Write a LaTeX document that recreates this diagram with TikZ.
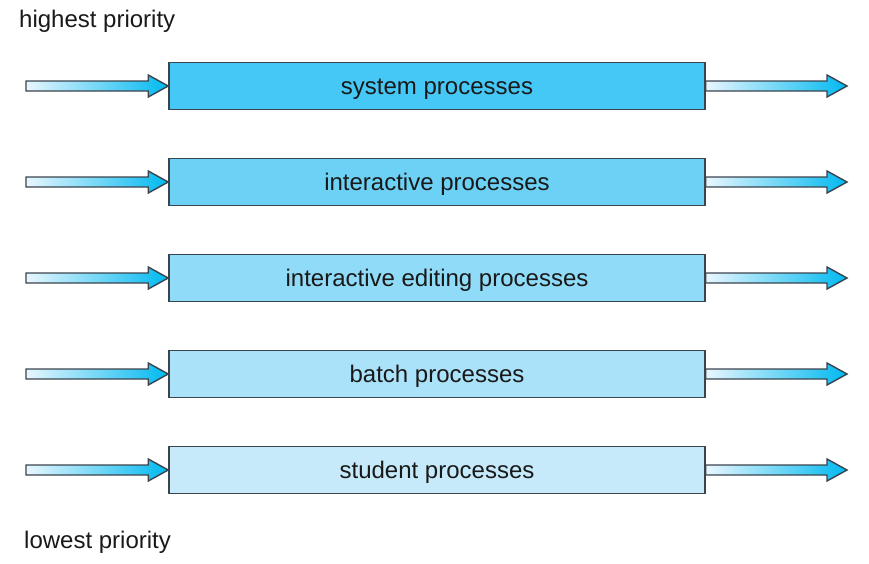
\documentclass[tikz,border=0pt]{standalone}
\usepackage{fontspec}
\setmainfont{Liberation Sans}
\usetikzlibrary{calc}
\definecolor{edge}{HTML}{3A444D}
\definecolor{cA}{HTML}{45C8F5}
\definecolor{cB}{HTML}{6DD1F6}
\definecolor{cC}{HTML}{8FDBF8}
\definecolor{cD}{HTML}{AAE2F9}
\definecolor{cE}{HTML}{C6EAFA}
\definecolor{shL}{HTML}{E8F6FD}
\definecolor{shR}{HTML}{00B9F0}
\tikzset{
  procbox/.style={draw=edge, line width=1.5pt, minimum width=536pt, minimum height=47pt,
    inner sep=0pt, font=\fontsize{24}{28}\selectfont, text=black!90},
  arrowshade/.style={draw=edge, line width=1.4pt, left color=shL, right color=shR, line join=miter},
  lbl/.style={font=\fontsize{24}{28}\selectfont, text=black!90, inner sep=0pt, anchor=base west}
}
\newcommand\blockarrow[2]{%
  \shadedraw[arrowshade] ($(#1)+(0,5)$) -- ($(#2)+(-20,5)$) -- ($(#2)+(-20,11)$) -- (#2)
    -- ($(#2)+(-20,-11)$) -- ($(#2)+(-20,-5)$) -- ($(#1)+(0,-5)$) -- cycle;}
\begin{document}
\begin{tikzpicture}[x=1pt,y=1pt]
\useasboundingbox (0,0) rectangle (869,-563);
\node[lbl] (hi) at (19,-27) {highest priority};
\node[lbl] (lo) at (24,-548) {lowest priority};
\foreach \i/\y/\c/\t in {1/86/cA/system processes,2/182/cB/interactive processes,3/278/cC/interactive editing processes,4/374/cD/batch processes,5/470/cE/student processes}{
  \node[procbox, fill=\c] (b\i) at (437,-\y) {};
  \node[font=\fontsize{24}{28}\selectfont, text=black!90, anchor=base, inner sep=0pt] (t\i) at (437,-\y-8) {\t};
  \coordinate (in\i) at (26,-\y);
  \coordinate (out\i) at (847,-\y);
  \blockarrow{in\i}{b\i.west}
  \blockarrow{b\i.east}{out\i}
}
\end{tikzpicture}
\end{document}
